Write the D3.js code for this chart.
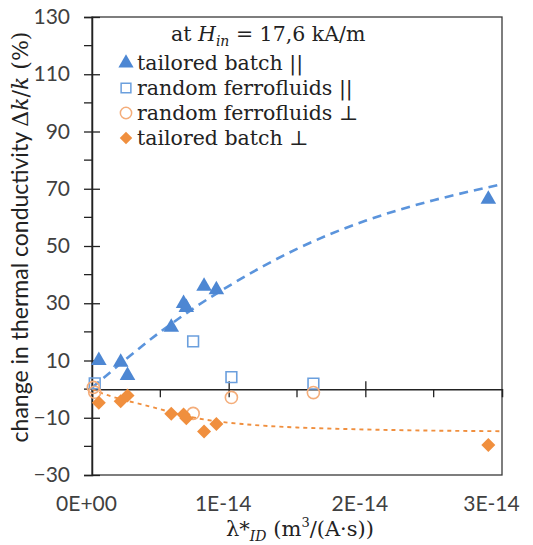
<!DOCTYPE html>
<html><head><meta charset="utf-8">
<script src="https://cdn.jsdelivr.net/npm/d3@7"></script>
<style>
body{margin:0;background:#fff;}
svg{display:block;}
</style></head>
<body>
<svg id="c" width="533" height="545"></svg>
<script>
// x values in units of 1E-14 m^3/(A·s)
const tbParX  = [0.05, 0.21, 0.26, 0.58, 0.67, 0.69, 0.82, 0.91, 2.90];
const tbParY  = [10.0, 9.4, 4.8, 21.6, 29.9, 28.5, 35.9, 34.7, 66.3];
const rfParX  = [0.02, 0.74, 1.02, 1.62];
const rfParY  = [2.0, 16.7, 4.2, 1.9];
const rfPerpX = [0.01, 0.02, 0.74, 1.02, 1.62];
const rfPerpY = [0.6, -1.1, -8.5, -2.9, -1.2];
const tbPerpX = [0.05, 0.21, 0.26, 0.58, 0.67, 0.69, 0.82, 0.91, 2.90];
const tbPerpY = [-4.8, -4.2, -2.2, -8.6, -8.9, -10.2, -14.8, -12.2, -19.5];
// trend lines
const trendParX  = [0, 0.5, 1.0, 1.5, 2.0, 2.5, 3.0];
const trendParY  = [0.5, 20.0, 36.0, 49.0, 58.8, 66.0, 71.6];
const trendPerpX = [0, 0.1, 0.25, 0.45, 0.75, 1.1, 1.5, 2.0, 2.5, 3.0];
const trendPerpY = [0, -1.9, -4.0, -6.4, -10.0, -12.2, -13.4, -14.1, -14.5, -14.7];
const xTickVals = [0, 1, 2, 3];
const xTickLabels = ["0E+00", "1E-14", "2E-14", "3E-14"];
const xMinorVals = [0.5, 1.5, 2.5];
const yTickVals = [-30, -10, 10, 30, 50, 70, 90, 110, 130];
const yMinorVals = [-20, 0, 20, 40, 60, 80, 100, 120];
const legendLabels = ["tailored batch ||", "random ferrofluids ||", "random ferrofluids \u22A5", "tailored batch \u22A5"];

const blue = "#4d87d3", blueLight = "#6b9fdd", orange = "#f08f3e", orangeLight = "#f4ad7a";
const sans = "Lato, 'Open Sans', sans-serif";
const serif = "'DejaVu Serif', serif";

const svg = d3.select("#c");
const L = 92, R = 502, T = 17, B = 475;
const x = d3.scaleLinear().domain([0, 3]).range([L, R]);
const y = d3.scaleLinear().domain([-30, 130]).range([B, T]);

// frame
svg.append("rect").attr("x", L).attr("y", T).attr("width", R - L).attr("height", B - T)
  .attr("fill", "none").attr("stroke", "#3a3a3a").attr("stroke-width", 1.3);

// y axis
const yAx = svg.append("g").attr("transform", `translate(${L},0)`)
  .call(d3.axisLeft(y).tickValues(yTickVals).tickSize(8).tickPadding(14).tickFormat(d3.format("d")));
yAx.select(".domain").attr("stroke", "#222").attr("stroke-width", 1.5);
yAx.selectAll(".tick line").attr("x2", 8).attr("x1", -8).attr("stroke", "#222").attr("stroke-width", 1.3);
yAx.selectAll(".tick text").attr("font-family", sans).attr("font-size", 21).attr("fill", "#404040");
svg.append("g").selectAll("line").data(yMinorVals).join("line")
  .attr("x1", L - 8).attr("x2", L).attr("y1", d => y(d)).attr("y2", d => y(d))
  .attr("stroke", "#222").attr("stroke-width", 1.3);

// x axis at y = 0 (ticks)
const xAx = svg.append("g").attr("transform", `translate(0,${y(0)})`)
  .call(d3.axisBottom(x).tickValues(xTickVals.slice(1, 3)).tickSize(8).tickFormat(""));
xAx.select(".domain").attr("stroke", "#222").attr("stroke-width", 1.5);
xAx.selectAll(".tick line").attr("y1", -8).attr("y2", 8).attr("stroke", "#222").attr("stroke-width", 1.3);
svg.append("g").selectAll("line").data(xMinorVals).join("line")
  .attr("x1", d => x(d)).attr("x2", d => x(d)).attr("y1", y(0)).attr("y2", y(0) + 8)
  .attr("stroke", "#222").attr("stroke-width", 1.3);

// x tick labels at the bottom
const xLab = svg.append("g").attr("transform", `translate(0,${B})`)
  .call(d3.axisBottom(x).tickValues(xTickVals).tickSize(0).tickPadding(21)
    .tickFormat((d, i) => xTickLabels[i]));
xLab.select(".domain").remove();
xLab.selectAll(".tick text").attr("font-family", sans).attr("font-size", 21).attr("fill", "#404040")
  .attr("dx", (d, i) => i === 3 ? -11 : -6);

// trend lines
const line = d3.line().x(d => x(d[0])).y(d => y(d[1])).curve(d3.curveNatural);
svg.append("path").datum(d3.zip(trendParX, trendParY)).attr("d", line)
  .attr("fill", "none").attr("stroke", "#5b94dc").attr("stroke-width", 2.6).attr("stroke-dasharray", "9,6");
svg.append("path").datum(d3.zip(trendPerpX, trendPerpY)).attr("d", line)
  .attr("fill", "none").attr("stroke", orange).attr("stroke-width", 1.9).attr("stroke-dasharray", "4,4");

// markers
const sym = (type, size) => d3.symbol().type(type).size(size)();
function scatter(xs, ys, type, size, fill, stroke, sw) {
  svg.append("g").selectAll("path").data(d3.zip(xs, ys)).join("path")
    .attr("transform", d => `translate(${x(d[0])},${y(d[1])})`)
    .attr("d", sym(type, size)).attr("fill", fill).attr("stroke", stroke).attr("stroke-width", sw);
}
scatter(rfParX, rfParY, d3.symbolSquare, 115, "none", blueLight, 1.6);
scatter(rfPerpX, rfPerpY, d3.symbolCircle, 115, "none", orangeLight, 1.6);
scatter(tbPerpX, tbPerpY, d3.symbolDiamond2 || d3.symbolDiamond, 125, orange, "none", 0);
scatter(tbParX, tbParY, d3.symbolTriangle, 105, blue, "none", 0);

// legend
const lg = svg.append("g");
const t = lg.append("text").attr("x", 171).attr("y", 41).attr("font-family", serif).attr("font-size", 20.5).attr("fill", "#222");
t.append("tspan").text("at ");
t.append("tspan").attr("font-style", "italic").text("H");
t.append("tspan").attr("font-style", "italic").attr("font-size", 14).attr("dy", 5).text("in");
t.append("tspan").attr("dy", -5).text(" = 17,6 kA/m");
const legSyms = [
  {type: d3.symbolTriangle, size: 100, fill: blue, stroke: "none"},
  {type: d3.symbolSquare, size: 95, fill: "none", stroke: blueLight},
  {type: d3.symbolCircle, size: 100, fill: "none", stroke: orangeLight},
  {type: d3.symbolDiamond2 || d3.symbolDiamond, size: 100, fill: orange, stroke: "none"}
];
legendLabels.forEach((lab, i) => {
  const cy = 63 + i * 25;
  const s = legSyms[i];
  lg.append("path").attr("transform", `translate(126,${cy})`).attr("d", sym(s.type, s.size))
    .attr("fill", s.fill).attr("stroke", s.stroke).attr("stroke-width", 1.5);
  lg.append("text").attr("x", 137).attr("y", cy + 7).attr("font-family", serif).attr("font-size", 20.5)
    .attr("fill", "#222").text(lab);
});

// y title
const yt = svg.append("text").attr("transform", "translate(28,237) rotate(-90)")
  .attr("text-anchor", "middle").attr("font-size", 22).attr("fill", "#222");
yt.append("tspan").attr("font-family", sans).attr("font-size", 23).text("change in thermal conductivity ");
yt.append("tspan").attr("font-family", serif).text("\u0394");
yt.append("tspan").attr("font-family", serif).attr("font-style", "italic").text("k");
yt.append("tspan").attr("font-family", serif).text("/");
yt.append("tspan").attr("font-family", serif).attr("font-style", "italic").text("k");
yt.append("tspan").attr("font-family", serif).text(" (%)");

// x title
const xt = svg.append("text").attr("x", 300).attr("y", 536).attr("text-anchor", "middle")
  .attr("font-family", serif).attr("font-size", 21).attr("fill", "#222");
xt.append("tspan").text("\u03BB*");
xt.append("tspan").attr("font-style", "italic").attr("font-size", 14).attr("dy", 5).text("ID");
xt.append("tspan").attr("dy", -5).text(" (m");
xt.append("tspan").attr("font-size", 13).attr("dy", -9).text("3");
xt.append("tspan").attr("dy", 9).text("/(A\u00B7s))");
</script>
</body></html>
